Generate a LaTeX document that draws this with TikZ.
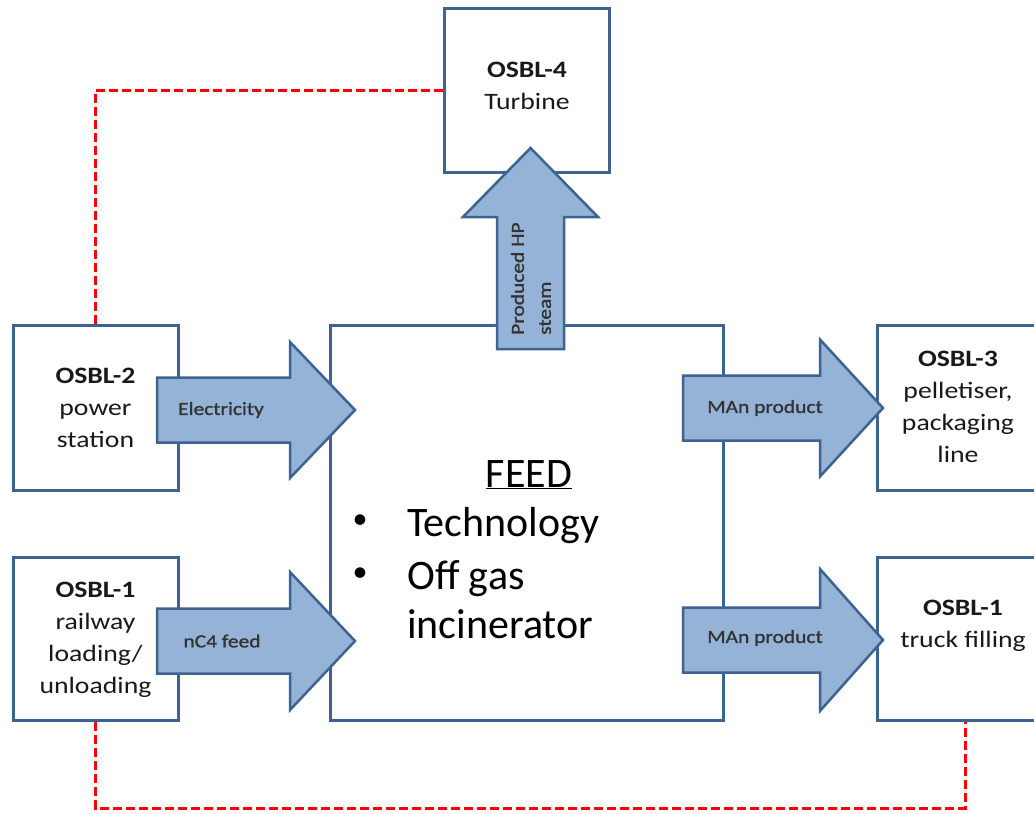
\documentclass[tikz,border=0pt]{standalone}
\usepackage{fontspec}
\setmainfont{Carlito}
\newfontfamily\boxfont[FakeStretch=1.18]{Carlito}
\newfontfamily\labfont[FakeStretch=1.16, FakeBold=1.2]{Carlito}
\usetikzlibrary{calc}
\definecolor{boxblue}{HTML}{3D6391}
\definecolor{arrowfill}{HTML}{95B3D7}
\definecolor{dashred}{HTML}{FF0000}
\newcommand\rightfat[6]{% x0, yc, xbase, xtip, shaft half, head half
  \filldraw[fatarrow] (#1,#2-#5) -- (#3,#2-#5) -- (#3,#2-#6) -- (#4,#2) -- (#3,#2+#6) -- (#3,#2+#5) -- (#1,#2+#5) -- cycle;}
\begin{document}
\begin{tikzpicture}[x=1pt,y=-1pt,
  blkbox/.style={draw=boxblue, line width=3pt, fill=white, inner sep=0pt},
  boxtext/.style={align=center, inner sep=0pt, font=\boxfont\fontsize{23.5}{32}\selectfont, text=black!90},
  fatarrow/.style={draw=boxblue, line width=2.5pt, fill=arrowfill, line join=miter},
  arrlabel/.style={inner sep=0pt, font=\labfont\fontsize{18.5}{27}\selectfont, text=black!80},
  feedtext/.style={inner sep=0pt, font=\fontsize{42}{50}\selectfont},
  reddash/.style={draw=dashred, line width=3pt, dash pattern=on 9pt off 4pt}]
\useasboundingbox (0,0) rectangle (1034,814);
\fill[white] (0,0) rectangle (1034,814);
\clip (0,0) rectangle (1034,814);

% boxes
\node[blkbox, minimum width=165pt, minimum height=164pt] (osbl4) at (526.5,90) {};
\node[blkbox, minimum width=165pt, minimum height=165pt] (osbl2) at (95.5,407.5) {};
\node[blkbox, minimum width=165pt, minimum height=163pt] (osbl1l) at (95.5,638.5) {};
\node[blkbox, minimum width=393pt, minimum height=395pt] (feed) at (526.5,522.5) {};
\node[blkbox, minimum width=166pt, minimum height=165pt] (osbl3) at (960,407.5) {};
\node[blkbox, minimum width=166pt, minimum height=163pt] (osbl1r) at (960,638.5) {};

% red dashed links
\coordinate (bottomright) at (965,808);
\draw[reddash] (osbl4.west) -| (osbl2.north);
\draw[reddash] (osbl1l.south) |- (bottomright) -- (bottomright |- osbl1r.south);

% box texts
\node[boxtext] (osbl4t) at (527,86) {\bfseries OSBL-4\\Turbine};
\node[boxtext] (osbl2t) at (95.5,408) {\bfseries OSBL-2\\power\\station};
\node[boxtext] (osbl1lt) at (95.5,640) {\bfseries OSBL-1\\railway\\loading/\\unloading};
\node[boxtext] (osbl3t) at (958,407) {\bfseries OSBL-3\\pelletiser,\\packaging\\line};
\node[boxtext] (osbl1rt) at (963,626) {\bfseries OSBL-1\\truck filling};

% fat arrows
\rightfat{157}{410}{290}{355}{32.5}{68}
\rightfat{157}{641}{290}{355}{32.5}{69}
\rightfat{683}{408}{820}{883}{32.5}{68.5}
\rightfat{683}{640}{820}{883}{32.5}{71}
\filldraw[fatarrow] (497,349) -- (497,217) -- (463,217) -- (530.5,148) -- (598,217) -- (564,217) -- (564,349) -- cycle;

% arrow labels
\node[arrlabel] (elec) at (221,410) {Electricity};
\node[arrlabel] (nc4) at (222,641) {nC4 feed};
\node[arrlabel] (man1) at (765,408) {MAn product};
\node[arrlabel] (man2) at (765,638) {MAn product};
\node[arrlabel, rotate=90, align=left, anchor=west] (steam) at (531,335) {Produced HP\\steam};

% FEED content
\node[feedtext, anchor=base] (feedtitle) at (529,487) {\underline{FEED}};
\node[feedtext, anchor=center, font=\fontsize{30}{30}\selectfont] (bul1) at (360,522) {•};
\node[feedtext, anchor=center, font=\fontsize{30}{30}\selectfont] (bul2) at (360,575) {•};
\node[feedtext, anchor=base west] (tech) at (407,536) {Technology};
\node[feedtext, anchor=base west] (offgas) at (407,589) {Off gas};
\node[feedtext, anchor=base west] (incin) at (407,638) {incinerator};
\end{tikzpicture}
\end{document}
